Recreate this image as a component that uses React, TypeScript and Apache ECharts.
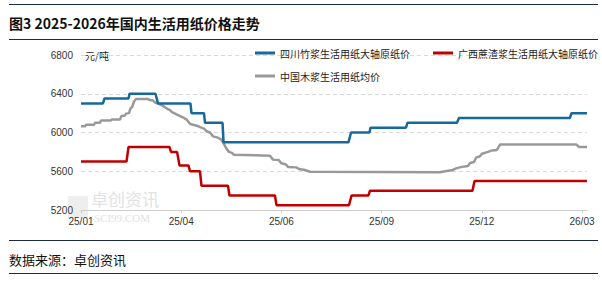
import React, { useEffect, useRef } from "react";
import * as echarts from "echarts";

// x is expressed in weeks since the start (tick labels every 12 weeks)
const xTickValues = [0, 12, 24, 36, 48, 60];
const xTickLabels = ["25/01", "25/04", "25/06", "25/09", "25/12", "26/03"];

const seriesNames = [
  "四川竹浆生活用纸大轴原纸价",
  "广西蔗渣浆生活用纸大轴原纸价",
  "中国木浆生活用纸均价",
];

const sichuanBamboo: [number, number][] = [
  [0, 6300], [2.63, 6300], [2.81, 6350], [5.69, 6350], [5.81, 6400], [8.92, 6400],
  [9.22, 6300], [13.11, 6300], [13.23, 6200], [14.73, 6200], [14.85, 6100], [16.95, 6100],
  [17.07, 5900], [32.04, 5900], [32.34, 6000], [34.55, 6000], [34.67, 6050], [38.92, 6050],
  [39.1, 6100], [45.03, 6100], [45.27, 6150], [58.56, 6150], [58.74, 6200], [60.6, 6200],
];

const guangxiBagasse: [number, number][] = [
  [0, 5700], [5.45, 5700], [5.69, 5850], [10.6, 5850], [10.78, 5800], [11.5, 5800],
  [11.8, 5660], [12.87, 5660], [13.05, 5600], [14.25, 5600], [14.43, 5450], [17.6, 5450],
  [17.78, 5350], [23.23, 5350], [23.41, 5250], [32.1, 5250], [32.4, 5350], [34.43, 5350],
  [34.61, 5400], [46.89, 5400], [47.13, 5500], [60.6, 5500],
];

const chinaWoodAvg: [number, number][] = [
  [0, 6065], [0.48, 6065], [0.6, 6080], [1.56, 6080], [1.68, 6100], [2.28, 6100],
  [2.4, 6125], [3.59, 6125], [3.71, 6135], [4.67, 6135], [4.85, 6170], [5.27, 6175],
  [5.39, 6195], [5.75, 6200], [5.93, 6250], [6.11, 6260], [6.35, 6320], [6.59, 6345],
  [8.02, 6345], [8.26, 6335], [8.62, 6330], [8.86, 6310], [9.22, 6300], [9.7, 6280],
  [10.06, 6260], [10.42, 6240], [10.66, 6230], [10.9, 6210], [11.38, 6190], [11.86, 6170],
  [12.34, 6150], [12.69, 6130], [13.05, 6090], [13.41, 6080], [13.89, 6070], [14.25, 6055],
  [14.73, 6040], [15.09, 6010], [15.45, 6000], [15.81, 5960], [16.29, 5950], [16.77, 5930],
  [17.13, 5880], [17.37, 5840], [17.72, 5800], [18.08, 5790], [18.32, 5770], [22.63, 5760],
  [22.99, 5720], [23.71, 5715], [23.95, 5685], [24.55, 5670], [24.79, 5645], [25.75, 5640],
  [26.23, 5620], [26.71, 5615], [27.43, 5595], [42.99, 5590], [43.59, 5600], [44.43, 5610],
  [44.91, 5630], [45.63, 5645], [46.35, 5655], [46.59, 5685], [47.07, 5695], [47.31, 5740],
  [47.78, 5755], [48.02, 5780], [48.74, 5800], [49.22, 5815], [49.82, 5820], [50.18, 5875],
  [59.34, 5875], [59.64, 5850], [60.6, 5850],
];

const colors = ["#17699b", "#c00000", "#999999"];

const CJK = '"Noto Sans CJK SC", "Noto Sans", sans-serif';
const NUM = '"Liberation Sans", Arial, sans-serif';

export default function App() {
  const ref = useRef<HTMLDivElement>(null);

  useEffect(() => {
    if (!ref.current) return;
    const chart = echarts.init(ref.current, undefined, { renderer: "svg" });
    const rule = (y: number) => ({
      type: "line",
      shape: { x1: 9, y1: y, x2: 598, y2: y },
      style: { stroke: "#1c2a48", lineWidth: 1 },
      silent: true,
    });
    const legendItem = (name: string, left: number, top: number) => ({
      data: [name],
      left,
      top,
      padding: 0,
      itemWidth: 20,
      itemHeight: 3,
      icon: "rect",
      textStyle: { fontSize: 10, color: "#222222", fontFamily: CJK },
    });
    chart.setOption({
      animation: false,
      backgroundColor: "#ffffff",
      grid: { left: 81, right: 15, top: 55, bottom: 71, containLabel: false },
      xAxis: {
        type: "value",
        min: 0,
        max: 60.6,
        axisLine: { show: true, lineStyle: { color: "#cccccc", width: 1 } },
        axisTick: {
          show: true,
          length: 3,
          customValues: xTickValues,
          lineStyle: { color: "#cccccc" },
        },
        axisLabel: {
          customValues: xTickValues,
          formatter: (v: number) => {
            const i = xTickValues.indexOf(Math.round(v));
            return i >= 0 ? xTickLabels[i] : "";
          },
          margin: 6,
          color: "#333333",
          fontSize: 10,
          fontFamily: NUM,
        },
        splitLine: { show: false },
      },
      yAxis: {
        type: "value",
        min: 5200,
        max: 6800,
        interval: 400,
        axisLine: { show: false },
        axisTick: { show: false },
        axisLabel: {
          margin: 8,
          color: "#333333",
          fontSize: 10,
          fontFamily: NUM,
          formatter: (v: number) => String(v),
        },
        splitLine: { lineStyle: { color: "#d9d9d9", type: [4, 3], width: 1 } },
      },
      legend: [
        legendItem(seriesNames[0], 255, 48),
        legendItem(seriesNames[1], 433, 48),
        legendItem(seriesNames[2], 255, 71),
      ],
      series: [
        { name: seriesNames[0], data: sichuanBamboo },
        { name: seriesNames[1], data: guangxiBagasse },
        { name: seriesNames[2], data: chinaWoodAvg },
      ].map((s, i) => ({
        ...s,
        type: "line",
        showSymbol: false,
        symbol: "none",
        color: colors[i],
        lineStyle: { color: colors[i], width: 2.5 },
        z: 3 - i,
      })),
      graphic: [
        rule(4.5),
        rule(39.5),
        rule(240.5),
        rule(273.5),
        {
          type: "text",
          x: 9,
          y: 23,
          style: {
            text: "图3 2025-2026年国内生活用纸价格走势",
            font: `bold 14px ${CJK}`,
            fill: "#111111",
            verticalAlign: "middle",
          },
        },
        {
          type: "text",
          x: 9,
          y: 259,
          style: {
            text: "数据来源：卓创资讯",
            font: `13px ${CJK}`,
            fill: "#111111",
            verticalAlign: "middle",
          },
        },
        {
          type: "text",
          x: 85,
          y: 55,
          style: {
            text: "元/吨",
            font: `10px ${CJK}`,
            fill: "#222222",
            verticalAlign: "middle",
          },
        },
        {
          type: "rect",
          shape: { x: 68, y: 196, width: 20, height: 22 },
          style: { fill: "#eeeeee" },
          z: 0,
        },
        {
          type: "text",
          x: 91,
          y: 198.5,
          style: {
            text: "卓创资讯",
            font: `17px ${CJK}`,
            fill: "#e2e2e2",
            verticalAlign: "middle",
          },
          z: 0,
        },
        {
          type: "text",
          x: 94,
          y: 217.5,
          style: {
            text: "SCI99.COM",
            font: `11px "Liberation Serif", serif`,
            fill: "#e2e2e2",
            verticalAlign: "middle",
          },
          z: 0,
        },
      ],
    });
    return () => chart.dispose();
  }, []);

  return (
    <div
      ref={ref}
      style={{ position: "fixed", left: 0, top: 0, width: 602, height: 281, background: "#fff" }}
    />
  );
}
